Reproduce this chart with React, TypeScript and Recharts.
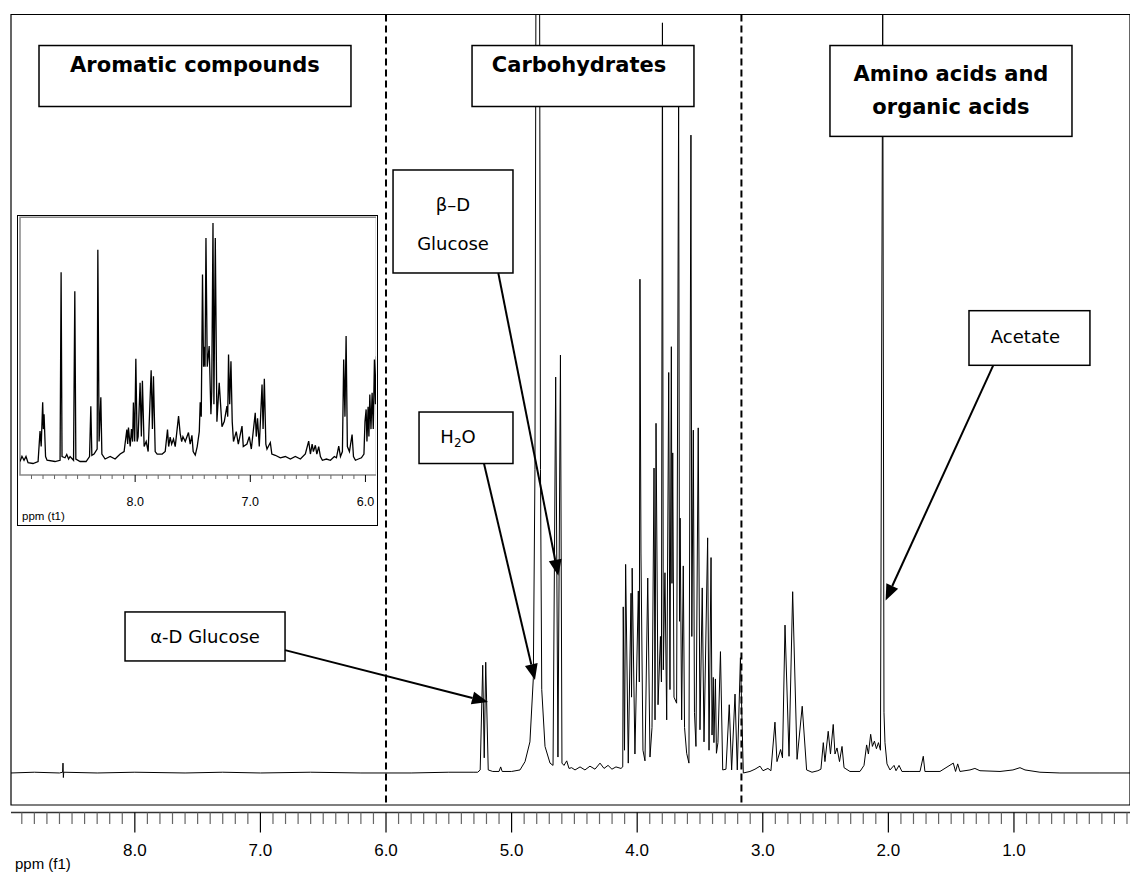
import React from 'react'
import { LineChart, Line, XAxis, YAxis, ReferenceLine, ReferenceArea } from 'recharts'

type Pt = [number, number]

// 1H spectrum as [ppm, intensity], intensity in % of full scale
const aromaticRegion: Pt[] = [
  [8.986, 0], [8.8, 0.1], [8.6, 0], [8.575, 0.1], [8.572, 1.3], [8.569, -0.6], [8.566, 0.1],
  [8.3, 0], [8.0, 0.1], [7.6, 0], [7.3, 0.1], [7.0, 0], [6.6, 0.1], [6.2, 0], [5.8, 0], [5.5, 0.1], [5.3, 0.1],
]

const sugarRegion: Pt[] = [
  [5.27, 0.1], [5.25, 0.4], [5.23, 14.2], [5.218, 2.0], [5.206, 14.6], [5.186, 0.4], [5.15, 0.2],
  [5.1, 0.2], [5.087, 0.8], [5.075, 0.2], [5.0, 0.2], [4.933, 0.4], [4.893, 1.5], [4.854, 4.1],
  [4.827, 12.5], [4.814, 40], [4.803, 130], [4.78, 130], [4.77, 40], [4.76, 11], [4.734, 3.5],
  [4.694, 1.3], [4.67, 1.0], [4.649, 52.2], [4.631, 2.1], [4.611, 55.1], [4.599, 1.3], [4.583, 1.0],
  [4.561, 1.6], [4.543, 0.6], [4.522, 0.7], [4.495, 0.4], [4.455, 0.8], [4.416, 0.4], [4.376, 0.9],
  [4.336, 0.5], [4.296, 1.3], [4.264, 0.6], [4.232, 1.0], [4.201, 0.5], [4.169, 0.8], [4.129, 0.6],
  [4.115, 0.8], [4.111, 21.9], [4.101, 3], [4.092, 27.5], [4.071, 1.3], [4.049, 23.7], [4.045, 10],
  [4.04, 27], [4.018, 2.5], [3.991, 24], [3.983, 12], [3.978, 65.1], [3.97, 29], [3.954, 3],
  [3.938, 1.6], [3.916, 25.7], [3.898, 2.1], [3.882, 6], [3.866, 40.2], [3.858, 7], [3.85, 46.1],
  [3.834, 9], [3.815, 18], [3.807, 12], [3.799, 98.9], [3.792, 13.6], [3.779, 26.4], [3.765, 7],
  [3.749, 52.8], [3.739, 11], [3.728, 56.2], [3.723, 25], [3.717, 42.2], [3.707, 10], [3.686, 9.2],
  [3.67, 88.8], [3.663, 20], [3.658, 33.6], [3.646, 7], [3.633, 27.3], [3.623, 6], [3.606, 2.6],
  [3.588, 1.3], [3.572, 84.1], [3.565, 18], [3.553, 45.2], [3.544, 8], [3.532, 3.5], [3.514, 45.5],
  [3.5, 5.7], [3.482, 24.4], [3.468, 4.1], [3.439, 31], [3.428, 3], [3.412, 28.4], [3.404, 5],
  [3.394, 12.6], [3.389, 4], [3.377, 12.4], [3.369, 2.6], [3.357, 4], [3.337, 16], [3.319, 0.4],
  [3.293, 0.5], [3.267, 9], [3.248, 0.4], [3.221, 10.4], [3.203, 0.4], [3.178, 15.2], [3.155, 0],
]

const aliphaticRegion: Pt[] = [
  [3.102, 0.2], [3.062, 0.5], [3.022, 0.9], [2.998, 0.3], [2.959, 0.6], [2.935, 0.3], [2.903, 6.7],
  [2.887, 1.5], [2.858, 3.1], [2.843, 2], [2.823, 19.5], [2.791, 2.2], [2.762, 23.9], [2.727, 1.8],
  [2.686, 8.8], [2.651, 0.4], [2.608, 0.1], [2.561, 0.3], [2.537, 0.5], [2.518, 4.0], [2.505, 1.5],
  [2.479, 5.5], [2.461, 2.5], [2.439, 6.4], [2.425, 2.5], [2.409, 3.3], [2.389, 1.5], [2.369, 3.5],
  [2.353, 0.7], [2.306, 0.2], [2.226, 0.2], [2.194, 1.0], [2.173, 3.7], [2.159, 2.5], [2.141, 5.1],
  [2.127, 3.5], [2.111, 4.2], [2.095, 3.2], [2.079, 4.0], [2.063, 3.0], [2.045, 101], [2.035, 8],
  [2.027, 4], [2.011, 1.2], [1.987, 0.4], [1.955, 1.0], [1.939, 0.3], [1.915, 1.0], [1.892, 0.2],
  [1.828, 0.2], [1.748, 0.2], [1.722, 2.2], [1.709, 0.2], [1.589, 0.2], [1.483, 1.3], [1.465, 0.2],
  [1.448, 1.2], [1.43, 0.2], [1.35, 0.4], [1.311, 0.6], [1.271, 0.3], [1.111, 0.2], [1.008, 0.4],
  [0.952, 0.7], [0.912, 0.4], [0.793, 0.1], [0.634, 0], [0.315, 0], [0.076, 0],
]

// expanded aromatic window shown in the inset
const insetTrace: Pt[] = [
  [9.0, 2], [8.983, 4.1], [8.965, 2.5], [8.948, 4], [8.93, 1.5], [8.887, 1.2], [8.843, 2],
  [8.826, 14.2], [8.816, 8], [8.803, 25.8], [8.797, 15], [8.791, 20.9], [8.778, 4], [8.765, 2.5],
  [8.696, 2], [8.652, 2.5], [8.643, 77.9], [8.635, 4], [8.609, 3.5], [8.594, 4.8], [8.578, 3],
  [8.565, 4], [8.535, 2.5], [8.524, 70.3], [8.515, 3], [8.478, 2], [8.426, 2], [8.396, 4],
  [8.385, 24.2], [8.376, 4.5], [8.357, 5], [8.33, 7], [8.324, 86.9], [8.313, 10], [8.298, 27.8],
  [8.289, 5], [8.261, 3], [8.217, 4], [8.174, 3], [8.13, 5], [8.096, 6], [8.072, 14.8], [8.065, 9],
  [8.058, 15.6], [8.043, 8], [8.032, 15], [8.022, 10], [8.015, 25.7], [8.004, 10], [7.994, 43.2],
  [7.983, 10], [7.974, 12], [7.957, 33.6], [7.946, 12], [7.937, 34.4], [7.922, 8], [7.904, 10],
  [7.887, 6], [7.861, 38.6], [7.85, 15], [7.841, 36.2], [7.826, 6], [7.809, 5], [7.765, 5],
  [7.739, 6], [7.719, 14.8], [7.709, 8], [7.696, 11.8], [7.683, 9], [7.667, 11], [7.652, 8],
  [7.623, 20.2], [7.609, 13.2], [7.596, 10], [7.585, 12], [7.565, 10], [7.537, 13.6], [7.522, 9],
  [7.507, 12.5], [7.496, 6], [7.478, 4.6], [7.461, 8], [7.443, 14], [7.435, 25.8], [7.426, 20],
  [7.415, 77], [7.406, 40], [7.4, 48], [7.393, 40], [7.385, 91.7], [7.374, 40], [7.357, 48.3],
  [7.342, 21], [7.335, 30], [7.324, 97.7], [7.316, 25], [7.304, 91.7], [7.29, 18], [7.27, 33.6],
  [7.246, 16], [7.226, 18], [7.203, 24.2], [7.196, 20], [7.189, 44.9], [7.179, 25], [7.168, 42.2],
  [7.157, 18], [7.146, 10], [7.122, 14], [7.104, 9], [7.072, 16.2], [7.061, 8], [7.029, 9],
  [7.009, 12], [6.991, 7], [6.957, 21.5], [6.948, 12], [6.937, 19.3], [6.922, 8], [6.898, 32.9],
  [6.889, 15], [6.878, 35.2], [6.865, 9], [6.855, 7], [6.826, 9.6], [6.813, 5], [6.783, 4.5],
  [6.739, 3.5], [6.696, 4], [6.652, 3], [6.609, 4], [6.565, 3], [6.522, 5], [6.493, 10.2],
  [6.478, 5], [6.463, 9], [6.452, 6], [6.435, 8.5], [6.422, 5], [6.406, 8], [6.391, 4], [6.374, 2.5],
  [6.339, 3], [6.304, 2.5], [6.27, 4], [6.252, 3.5], [6.232, 8.2], [6.217, 4], [6.2, 6],
  [6.189, 42.9], [6.178, 20], [6.168, 52.3], [6.157, 8], [6.139, 6], [6.116, 12.8], [6.104, 4],
  [6.087, 2.5], [6.061, 3], [6.035, 3.5], [6.013, 5], [6.004, 18], [5.994, 22.9], [5.987, 10],
  [5.977, 24], [5.97, 12], [5.962, 28.9], [5.952, 15], [5.942, 29.6], [5.932, 15], [5.922, 42.9],
  [5.913, 25], [5.904, 44.2],
]

const majorTicks = [8, 7, 6, 5, 4, 3, 2, 1]
const insetMajorTicks = [8, 7, 6]
const regionBounds = [6.0, 3.17]

const spectrum = [...aromaticRegion, ...sugarRegion, ...aliphaticRegion].map(([ppm, intensity]) => ({ ppm, intensity }))
const insetData = insetTrace.map(([ppm, intensity]) => ({ ppm, intensity }))

const mainTicks = Array.from({ length: 89 }, (_, i) => +((i + 1) / 10).toFixed(1))
const insetTicks = Array.from({ length: 30 }, (_, i) => +(6 + i / 10).toFixed(1))

const SANS = "'DejaVu Sans', Verdana, sans-serif"
const ARIAL = "'Liberation Sans', Arial, sans-serif"

type Box = {
  lines: React.ReactNode[]
  ppm: [number, number]
  level: [number, number]
  bold?: boolean
  baselines: number[]
  dx?: number
  arrow?: [Pt, Pt]
}

const sub2 = (
  <>
    H<tspan fontSize={12} dy={4}>2</tspan><tspan dy={-4}>O</tspan>
  </>
)

const boxes: Box[] = [
  { lines: ['Aromatic compounds'], ppm: [8.763, 6.279], level: [87.87, 95.91], bold: true, baselines: [26] },
  { lines: ['Carbohydrates'], ppm: [5.315, 3.548], level: [87.87, 95.91], bold: true, baselines: [26], dx: -4 },
  { lines: ['Amino acids and', 'organic acids'], ppm: [2.465, 0.538], level: [83.93, 95.91], bold: true, baselines: [35.5, 68.5] },
  { lines: ['β–D', 'Glucose'], ppm: [5.944, 4.989], level: [65.92, 79.5], baselines: [41, 80], arrow: [[5.106, 65.92], [4.628, 26.02]] },
  { lines: [sub2], ppm: [5.737, 4.989], level: [40.8, 47.59], baselines: [31], dx: -8, arrow: [[5.22, 40.8], [4.814, 12.26]] },
  { lines: ['α-D Glucose'], ppm: [8.078, 6.804], level: [14.77, 21.23], baselines: [31], arrow: [[6.804, 16.2], [5.188, 9.36]] },
  { lines: ['Acetate'], ppm: [1.358, 0.395], level: [53.75, 60.95], baselines: [32], dx: -4, arrow: [[1.165, 53.75], [2.022, 22.73]] },
]

function boxShape(b: Box) {
  return (p: any) => (
    <g>
      <rect x={p.x} y={p.y} width={p.width} height={p.height} fill="#fff" stroke="#000" strokeWidth={1.5} />
      {b.lines.map((t, i) => (
        <text
          key={i}
          x={p.x + p.width / 2 + (b.dx ?? 0)}
          y={p.y + b.baselines[i]}
          textAnchor="middle"
          fontFamily={SANS}
          fontWeight={b.bold ? 'bold' : 'normal'}
          fontSize={b.bold ? 21 : 18}
          fill="#000"
        >
          {t}
        </text>
      ))}
    </g>
  )
}

function Arrow(props: any) {
  const { x1, y1, x2, y2 } = props
  const a = Math.atan2(y2 - y1, x2 - x1)
  const len = 16
  const half = 6.5
  const bx = x2 - len * Math.cos(a)
  const by = y2 - len * Math.sin(a)
  const pts = [
    `${x2},${y2}`,
    `${bx + half * Math.sin(a)},${by - half * Math.cos(a)}`,
    `${bx - half * Math.sin(a)},${by + half * Math.cos(a)}`,
  ].join(' ')
  return (
    <g>
      <line x1={x1} y1={y1} x2={bx} y2={by} stroke="#000" strokeWidth={2} />
      <polygon points={pts} fill="#000" />
    </g>
  )
}

function PpmTick(props: any) {
  const { x, y, payload } = props
  const v: number = payload.value
  const major = majorTicks.some((m) => Math.abs(m - v) < 1e-6)
  return (
    <g>
      <line x1={x} x2={x} y1={y} y2={y + (major ? 20 : 11.5)} stroke={major ? '#000' : '#666'} strokeWidth={1.2} />
      {major && (
        <text x={x} y={y + 43} textAnchor="middle" fontFamily={ARIAL} fontSize={17} fill="#000">
          {v.toFixed(1)}
        </text>
      )}
    </g>
  )
}

function InsetTick(props: any) {
  const { x, y, payload } = props
  const v: number = payload.value
  const major = insetMajorTicks.some((m) => Math.abs(m - v) < 1e-6)
  return (
    <g>
      <line x1={x} x2={x} y1={y} y2={y + (major ? 7 : 4)} stroke={major ? '#000' : '#666'} strokeWidth={1} />
      {major && (
        <text x={x} y={y + 30.5} textAnchor="middle" fontFamily={ARIAL} fontSize={12.5} fill="#000">
          {v.toFixed(1)}
        </text>
      )}
    </g>
  )
}

export default function App() {
  return (
    <div style={{ position: 'relative', width: 1130, height: 872, background: '#fff' }}>
      <style>{'body{margin:0}'}</style>
      <LineChart width={1130} height={872} data={spectrum} margin={{ top: 14.5, right: 0, left: 11, bottom: 0 }}>
        <XAxis
          type="number"
          dataKey="ppm"
          domain={[0.076, 8.986]}
          reversed
          allowDataOverflow
          ticks={mainTicks}
          interval={0}
          tick={(p: any) => <PpmTick {...p} />}
          tickSize={0}
          tickMargin={0}
          tickLine={false}
          height={59.5}
          axisLine={{ stroke: '#333', strokeWidth: 1.5 }}
        />
        <YAxis hide type="number" domain={[-5.21, 100]} allowDataOverflow />
        <ReferenceArea x1={0.076} x2={8.986} y1={-4.22} y2={100} fill="none" stroke="#000" strokeWidth={1.2} ifOverflow="visible" />
        <Line type="linear" dataKey="intensity" stroke="#000" strokeWidth={1} dot={false} isAnimationActive={false} />
        {regionBounds.map((b) => (
          <ReferenceLine
            key={b}
            segment={[{ x: b, y: 100 }, { x: b, y: -4.35 }]}
            stroke="#000"
            strokeWidth={2}
            strokeDasharray="7 4"
            ifOverflow="visible"
            zIndex={1500}
          />
        ))}
        {boxes.map((b, i) => (
          <ReferenceArea
            key={`box${i}`}
            x1={b.ppm[0]}
            x2={b.ppm[1]}
            y1={b.level[0]}
            y2={b.level[1]}
            ifOverflow="visible"
            shape={boxShape(b)}
            zIndex={1600}
          />
        ))}
        {boxes
          .filter((b) => b.arrow)
          .map((b, i) => (
            <ReferenceLine
              key={`arrow${i}`}
              segment={[{ x: b.arrow![0][0], y: b.arrow![0][1] }, { x: b.arrow![1][0], y: b.arrow![1][1] }]}
              ifOverflow="visible"
              shape={(p: any) => <Arrow {...p} />}
              zIndex={1700}
            />
          ))}
      </LineChart>

      <div
        style={{
          position: 'absolute',
          left: 16.5,
          top: 215,
          width: 361.5,
          height: 311,
          border: '1.5px solid #000',
          boxSizing: 'border-box',
          background: '#fff',
        }}
      >
        <LineChart width={358.5} height={308} data={insetData} margin={{ top: 1.2, right: 0, left: 2, bottom: 0 }}>
          <XAxis
            type="number"
            dataKey="ppm"
            domain={[5.904, 9.0]}
            reversed
            allowDataOverflow
            ticks={insetTicks}
            interval={0}
            tick={(p: any) => <InsetTick {...p} />}
            tickSize={0}
            tickMargin={0}
            tickLine={false}
            height={49}
            axisLine={false}
          />
          <YAxis hide type="number" domain={[-3.41, 100]} allowDataOverflow />
          <ReferenceArea x1={5.904} x2={9.0} y1={-3.41} y2={100} fill="none" stroke="#888" strokeWidth={1.5} ifOverflow="visible" />
          <Line type="linear" dataKey="intensity" stroke="#000" strokeWidth={1.3} dot={false} isAnimationActive={false} />
        </LineChart>
      </div>

      <svg width={1130} height={872} style={{ position: 'absolute', left: 0, top: 0, pointerEvents: 'none' }}>
        <text x={22} y={520} fontFamily={ARIAL} fontSize={11.5} fill="#000">ppm (t1)</text>
        <text x={15} y={869} fontFamily={ARIAL} fontSize={15} fill="#000">ppm (f1)</text>
      </svg>
    </div>
  )
}
